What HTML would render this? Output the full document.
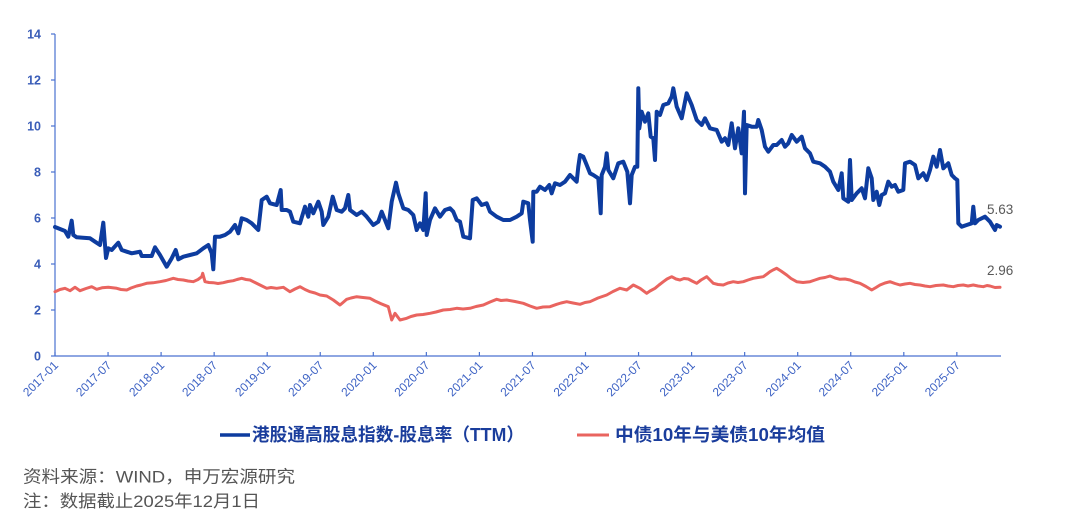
<!DOCTYPE html>
<html>
<head>
<meta charset="utf-8">
<style>
  html, body { margin:0; padding:0; background:#ffffff; }
  body { width:1077px; height:526px; overflow:hidden; }
  svg { display:block; }
  .yl { font-family:"Liberation Sans", Arial, sans-serif; font-size:12.5px; font-weight:bold; fill:#3a5db8; }
  .xl { font-family:"Liberation Sans", Arial, sans-serif; font-size:12px; fill:#3d62c4; }
  .dl { font-family:"Liberation Sans", Arial, sans-serif; font-size:13.5px; fill:#595959; }
  .lg { font-family:"Liberation Sans", "Noto Sans CJK SC", sans-serif; font-size:18px; font-weight:bold; fill:#1a3d9c; }
  .src { font-family:"Liberation Sans", "Noto Sans CJK SC", sans-serif; font-size:17px; fill:#555555; }
</style>
</head>
<body>
<svg width="1077" height="526" viewBox="0 0 1077 526" xmlns="http://www.w3.org/2000/svg">
  <!-- axes -->
  <line x1="55" y1="34" x2="55" y2="356" stroke="#4a72d0" stroke-width="1.2"/>
  <line x1="55" y1="356" x2="1001" y2="356" stroke="#4a72d0" stroke-width="1.2"/>
  <!-- y ticks -->
  <g stroke="#4a72d0" stroke-width="1.2">
    <line x1="51" y1="356" x2="55" y2="356"/>
    <line x1="51" y1="310" x2="55" y2="310"/>
    <line x1="51" y1="264" x2="55" y2="264"/>
    <line x1="51" y1="218" x2="55" y2="218"/>
    <line x1="51" y1="172" x2="55" y2="172"/>
    <line x1="51" y1="126" x2="55" y2="126"/>
    <line x1="51" y1="80" x2="55" y2="80"/>
    <line x1="51" y1="34" x2="55" y2="34"/>
  </g>
  <g class="yl" text-anchor="end">
    <text x="41" y="360.5">0</text>
    <text x="41" y="314.5">2</text>
    <text x="41" y="268.5">4</text>
    <text x="41" y="222.5">6</text>
    <text x="41" y="176.5">8</text>
    <text x="41" y="130.5">10</text>
    <text x="41" y="84.5">12</text>
    <text x="41" y="38.5">14</text>
  </g>
  <!-- x ticks -->
  <g stroke="#4a72d0" stroke-width="1.2">
    <line x1="55" y1="352" x2="55" y2="356"/>
    <line x1="108.05" y1="352" x2="108.05" y2="356"/>
    <line x1="161.1" y1="352" x2="161.1" y2="356"/>
    <line x1="214.15" y1="352" x2="214.15" y2="356"/>
    <line x1="267.2" y1="352" x2="267.2" y2="356"/>
    <line x1="320.25" y1="352" x2="320.25" y2="356"/>
    <line x1="373.3" y1="352" x2="373.3" y2="356"/>
    <line x1="426.35" y1="352" x2="426.35" y2="356"/>
    <line x1="479.4" y1="352" x2="479.4" y2="356"/>
    <line x1="532.45" y1="352" x2="532.45" y2="356"/>
    <line x1="585.5" y1="352" x2="585.5" y2="356"/>
    <line x1="638.55" y1="352" x2="638.55" y2="356"/>
    <line x1="691.6" y1="352" x2="691.6" y2="356"/>
    <line x1="744.65" y1="352" x2="744.65" y2="356"/>
    <line x1="797.7" y1="352" x2="797.7" y2="356"/>
    <line x1="850.75" y1="352" x2="850.75" y2="356"/>
    <line x1="903.8" y1="352" x2="903.8" y2="356"/>
    <line x1="956.85" y1="352" x2="956.85" y2="356"/>
  </g>
  <g class="xl" text-anchor="end">
    <text transform="translate(59,366) rotate(-45)">2017-01</text>
    <text transform="translate(112.05,366) rotate(-45)">2017-07</text>
    <text transform="translate(165.1,366) rotate(-45)">2018-01</text>
    <text transform="translate(218.15,366) rotate(-45)">2018-07</text>
    <text transform="translate(271.2,366) rotate(-45)">2019-01</text>
    <text transform="translate(324.25,366) rotate(-45)">2019-07</text>
    <text transform="translate(377.3,366) rotate(-45)">2020-01</text>
    <text transform="translate(430.35,366) rotate(-45)">2020-07</text>
    <text transform="translate(483.4,366) rotate(-45)">2021-01</text>
    <text transform="translate(536.45,366) rotate(-45)">2021-07</text>
    <text transform="translate(589.5,366) rotate(-45)">2022-01</text>
    <text transform="translate(642.55,366) rotate(-45)">2022-07</text>
    <text transform="translate(695.6,366) rotate(-45)">2023-01</text>
    <text transform="translate(748.65,366) rotate(-45)">2023-07</text>
    <text transform="translate(801.7,366) rotate(-45)">2024-01</text>
    <text transform="translate(854.75,366) rotate(-45)">2024-07</text>
    <text transform="translate(907.8,366) rotate(-45)">2025-01</text>
    <text transform="translate(960.85,366) rotate(-45)">2025-07</text>
  </g>

  <!-- red series -->
  <polyline fill="none" stroke="#e9645f" stroke-width="3" stroke-linejoin="round" stroke-linecap="round"
    points="55,291.7 60,289.5 65,288.3 70,290.7 75,287.3 80,290.7 86,288.5 91.7,286.7 96.7,289.3 102,287.8 108.3,287.3 116.7,288.3 121,289.5 126.7,290 131,288 136.7,286 141,285 146.7,283.3 153,282.8 160,281.7 166,280.5 173.3,278.3 178,279.5 183.3,280 188,281 193.3,281.7 198,279.5 201.7,276.7 202.7,273.3 205,281.7 209,282.5 213.3,282.7 218,283.5 223.3,282.7 228,281.5 233.3,280.7 237,279.5 241.7,278.3 246,279.5 250,280 255,282.5 260,285 266.7,288.3 271,287.5 276.7,288.3 283.3,287.3 290,291.7 295,289 300,286.7 305,289.5 310,291.7 315,293 320,295 326.7,296 333.3,300 340,305 343,302.5 346.7,299.3 351,298 356.7,296.7 363,297.5 370,298.3 375,301 380,303.3 388.3,306.7 391.7,320 395,313.3 400,320 406.7,318.3 411,316.5 416.7,315 423,314.5 430,313.3 436,312 443.3,310 450,309.5 456.7,308.3 463,309 470,308.3 476,306.5 483.3,305 490,302 496.7,299.3 501,300.5 506.7,300 515,301.5 523.3,303.3 530,306 536.7,308.3 543,307 550,306.7 556.7,304.3 561,303 566.7,301.7 573,303 580,304.3 585,302.5 590,301.7 598,298 606.7,295 613,291.5 620,288.3 626.7,290 633.3,285 640,288.3 646.7,293.3 650,291 655,288.3 659,285 663.3,281.7 667,279 671.7,276.7 676,279 680,280 684,278.5 688.3,279 692,281 696.7,283.3 701,280 706.7,276.7 710,280 713.3,283.3 718,284.5 723.3,285 728,283 733.3,281.7 738,282.5 743.3,281.7 748,280 753.3,278.3 758,277.5 763.3,276.7 767,274 770,271.7 773,270 776.7,268.3 781,271 786.7,275 791,278.5 796.7,281.7 803,282.5 810,281.7 815,280 820,278.3 825,277.5 830,276 835,278 840,279.3 845,279 850,280 855,282 860,283.3 866,286.5 871.7,290 876,287.5 880,285 885,283 890,281.7 895,283.5 900,285 905,284 910,283.3 915,284.5 920,285 925,286 930,286.7 936,285.5 943.3,285 948,286 953.3,286.7 958,285.5 963.3,285 968,286 973.3,285 978,286 983.3,286.7 987,285.5 990,286 995,287.5 1000,287.3"/>

  <!-- blue series -->
  <polyline fill="none" stroke="#0d3c9f" stroke-width="4" stroke-linejoin="round" stroke-linecap="round"
    points="55,227 60,229 65,231 68.3,236.7 71.7,220.7 73.3,235 76.7,237.3 83,237.8 90,238.3 95,241.7 100,245 103.3,222.7 106,258 108.3,248.3 111.7,250 118.3,242.7 121.7,250 126.7,251.7 131.7,253.3 136,252.5 140,251.7 141.7,256 146.7,256 151.7,256 155,247.3 160,255 166.7,266.7 171.7,258.3 175.7,250 178.3,259.3 183.3,256.7 190,255 196.7,253.3 203.3,248.3 208.3,245 211.7,253.3 213.3,269.3 215,236.7 220,236.7 225,235 230,231.7 235,225 238.3,233.3 241.7,218.3 246.7,220 251.7,223.3 258.3,230 261.7,200 266.7,196.7 270,203.3 276.7,205 280.7,190 281.7,210 286.7,210 290,211.7 293.3,221.7 300,223.3 305,206.7 308.3,216.7 310,205 313.3,213.3 318.3,201.7 321.7,211.7 323.3,225 328.3,216.7 332.7,196.7 336.7,210 341.7,211.7 345,208.3 348.3,195 350,210 356.7,215 361.7,211.7 366.7,216.7 373.3,225 378.3,221.7 381.7,211.7 388.3,228.3 391.7,201.7 396,182.7 398.3,193.3 403.3,208.3 408.3,210 413.3,215 416.7,230 420,223.3 423.3,230 425.7,193.3 426.7,235 430,220 435,208.3 440,216.7 445,210 450,208.3 453.3,211.7 456.7,220 460,221.7 463.3,236.7 470,238.3 472.7,200 476.7,198.3 481.7,205 486.7,203.3 490,211.7 496.7,216.7 503.3,220 510,220 516.7,216.7 521.7,213.3 523.3,201.7 528.3,203.3 530,220 532.7,241.7 533.3,191.7 536.7,191.7 540,186.7 545,190 549.3,185 551.7,193.3 555,183.3 560,185 565,181.7 570,175 573.3,178.3 576.7,181.7 578.3,166.7 580,155 583.3,156.7 586.7,165 590,173.3 593.3,175 598.3,178.3 600.7,213.3 601.7,175 605,166.7 606.7,153.3 608.3,170 613.3,178.3 618.3,163.3 623.3,161.7 627.3,171.7 630,203.3 631.7,175 635,166.7 637.3,166.7 638.3,88.3 639.3,128.3 641.7,111.7 645,121.7 648.3,113.3 650.7,136.7 653.3,138.3 655,160 656.7,111.7 660,115 663.3,105 668.3,103.3 671.7,96.7 673.3,88.3 676.7,106.7 681.7,118.3 686.7,93.3 691.7,105 696.7,120 701.7,125 705,118.3 710,128.3 716.7,130 721.7,141.7 725,138.3 728.3,145 731.7,123.3 735,148.3 738.3,128.3 741.7,153.3 744,111.7 745,193.3 746.7,125 751.7,126.7 756.7,126.7 758.3,120 761.7,130 765,146.7 768.3,151.7 773.3,145 776.7,145 781.7,140 785,146.7 788.3,143.3 791.7,135 796.7,141.7 801.7,136.7 805,148.3 810,153.3 813.3,161.7 820,163.3 825,166.7 830,171.7 833.3,181.7 838.3,190 841.7,173.3 843.3,198.3 848.3,201.7 850,160 851.7,200 856.7,193.3 861.7,188.3 865,198.3 868.3,168.3 871.7,178.3 873.3,200 876.7,191.7 879.3,205 881.7,195 885,193.3 888.3,181.7 891.7,186.7 895,185 898.3,191.7 903.3,190 905,163.3 910,161.7 915,165 918.3,178.3 923.3,173.3 926.7,180 930,170 933.3,156.7 936.7,166.7 940,150 943.3,168.3 948.3,163.3 951.7,175 955,178.3 957.3,180 958.3,223.3 961.7,226.7 966.7,225 971.7,223.3 973.3,206.7 975,223.3 978.3,220 985,216.7 990,221.7 995,230 996.7,225 1000,226.7"/>

  <!-- end labels -->
  <text class="dl" x="987" y="214">5.63</text>
  <text class="dl" x="987" y="275">2.96</text>

  <!-- legend -->
  <line x1="220" y1="435" x2="250" y2="435" stroke="#0d3c9f" stroke-width="3.6"/>
  <text class="lg" x="252" y="441" textLength="272" lengthAdjust="spacingAndGlyphs">港股通高股息指数-股息率（TTM）</text>
  <line x1="577" y1="435" x2="609" y2="435" stroke="#e9645f" stroke-width="3"/>
  <text class="lg" x="615" y="441" textLength="210" lengthAdjust="spacingAndGlyphs">中债10年与美债10年均值</text>

  <!-- source -->
  <text class="src" x="23" y="482.5" textLength="272" lengthAdjust="spacingAndGlyphs">资料来源：WIND，申万宏源研究</text>
  <text class="src" x="23" y="507" textLength="237" lengthAdjust="spacingAndGlyphs">注：数据截止2025年12月1日</text>
</svg>
</body>
</html>
